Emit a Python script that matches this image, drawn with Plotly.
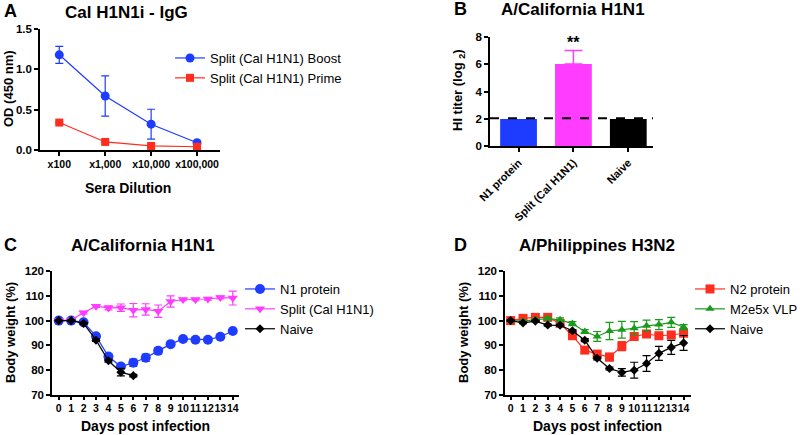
import plotly.graph_objects as go

# ---------------- data ----------------
dilutions = ["x100", "x1,000", "x10,000", "x100,000"]
boost_od = [1.18, 0.67, 0.32, 0.09]
boost_err = [0.105, 0.25, 0.185, 0.02]
prime_od = [0.34, 0.10, 0.05, 0.04]
prime_err = [0.01, 0.01, 0.01, 0.01]

hi_groups = ["N1 protein", "Split (Cal H1N1)", "Naive"]
hi_titer = [2, 6, 2]
hi_err_up = [0, 1, 0]
hi_limit = 2.05

days = list(range(15))
c_n1 = [100, 100, 99.3, 93.7, 85.5, 81.5, 83.0, 85.0, 87.8, 90.5, 92.6, 92.3, 92.3, 93.5, 95.8]
c_n1_err = [0.3, 0.3, 0.5, 0.8, 1.0, 1.0, 1.5, 1.5, 1.2, 0.6, 0.6, 0.5, 0.5, 0.6, 0.6]
c_split = [100, 100.3, 103.2, 105.8, 105.1, 105.2, 104.2, 104.5, 103.8, 107.7, 108.5, 108.5, 108.7, 109.3, 109.1]
c_split_err = [0.3, 0.3, 0.5, 0.5, 0.8, 1.5, 2.7, 2.3, 2.5, 2.3, 0.5, 0.5, 0.5, 0.6, 2.8]
c_naive_days = [0, 1, 2, 3, 4, 5, 6]
c_naive = [100, 100, 98.9, 92.1, 83.8, 79.2, 77.8]
c_naive_err = [0.2, 0.2, 0.4, 0.5, 0.6, 1.5, 0.5]

d_n2 = [100, 100.9, 101.3, 101.3, 98.9, 93.9, 88.1, 86.5, 85.3, 89.7, 93.6, 94.6, 93.9, 94.2, 94.9]
d_n2_err = [0.4, 0.6, 0.6, 0.6, 0.8, 0.8, 0.8, 1.0, 1.5, 1.8, 1.0, 1.0, 0.8, 0.8, 0.8]
d_m2 = [100, 99.8, 100.4, 100.8, 100.3, 98.8, 95.6, 93.6, 95.8, 96.3, 96.9, 97.9, 98.4, 99.3, 97.4]
d_m2_err = [0.4, 0.5, 0.6, 0.6, 0.8, 0.8, 0.8, 2.0, 3.5, 3.4, 2.7, 2.3, 2.0, 2.0, 1.0]
d_naive = [100, 99.1, 99.8, 98.2, 98.1, 95.9, 92.1, 84.8, 80.7, 79.1, 80.0, 82.7, 86.8, 89.2, 91.0]
d_naive_err = [0.3, 0.3, 0.3, 0.4, 0.4, 0.5, 0.6, 0.6, 0.6, 1.5, 3.2, 3.2, 2.8, 2.8, 3.0]

# ---------------- style ----------------
FONT = "Liberation Sans"
BLUE = "#1e3cff"
RED = "#ff2d1e"
MAG = "#ff3cff"
GREEN = "#1a9a1a"
BLACK = "#000000"
W, H = 800, 435


def X(px):
    return px / W


def Y(py):
    return 1 - py / H


def axis_style(xtick=False, **kw):
    d = dict(showline=True, linecolor="black", linewidth=1.5, ticks="outside",
             ticklen=4, tickwidth=1.5, tickcolor="black", showgrid=False,
             zeroline=False, mirror=False, automargin=False,
             tickfont=dict(family=FONT, size=10.5 if xtick else 11.5, color="black", weight="bold"))
    d.update(kw)
    return d


def eb(arr, color):
    return dict(type="data", array=arr, visible=True, color=color, thickness=1.2, width=4)


fig = go.Figure()

# Panel A
fig.add_trace(go.Scatter(x=list(range(4)), y=boost_od, mode="lines+markers",
                         name="Split (Cal H1N1) Boost", line=dict(color=BLUE, width=1.2),
                         marker=dict(symbol="circle", size=9, color=BLUE),
                         error_y=eb(boost_err, BLUE), xaxis="x", yaxis="y", legend="legend",
                         cliponaxis=False))
fig.add_trace(go.Scatter(x=list(range(4)), y=prime_od, mode="lines+markers",
                         name="Split (Cal H1N1) Prime", line=dict(color=RED, width=1.2),
                         marker=dict(symbol="square", size=8, color=RED),
                         error_y=eb(prime_err, RED), xaxis="x", yaxis="y", legend="legend",
                         cliponaxis=False))

# Panel B
fig.add_trace(go.Bar(x=hi_groups, y=hi_titer, marker=dict(color=[BLUE, MAG, BLACK], line=dict(width=0)),
                     width=0.67, showlegend=False, xaxis="x2", yaxis="y2"))
fig.add_trace(go.Scatter(x=[hi_groups[1]], y=[hi_titer[1]], mode="markers",
                         marker=dict(size=1, opacity=0), showlegend=False,
                         error_y=dict(type="data", array=[hi_err_up[1]], arrayminus=[0],
                                      color=MAG, thickness=1.5, width=9),
                         xaxis="x2", yaxis="y2", hoverinfo="skip"))

# Panel C
fig.add_trace(go.Scatter(x=days, y=c_n1, mode="lines+markers", name="N1 protein",
                         line=dict(color=BLUE, width=1.2), marker=dict(symbol="circle", size=10, color=BLUE),
                         error_y=eb(c_n1_err, BLUE), xaxis="x3", yaxis="y3", legend="legend2",
                         cliponaxis=False))
fig.add_trace(go.Scatter(x=days, y=c_split, mode="lines+markers", name="Split (Cal H1N1)",
                         line=dict(color=MAG, width=1.2), marker=dict(symbol="triangle-down", size=9, color=MAG),
                         error_y=eb(c_split_err, MAG), xaxis="x3", yaxis="y3", legend="legend2",
                         cliponaxis=False))
fig.add_trace(go.Scatter(x=c_naive_days, y=c_naive, mode="lines+markers", name="Naive",
                         line=dict(color=BLACK, width=1.2), marker=dict(symbol="diamond", size=7, color=BLACK),
                         error_y=eb(c_naive_err, BLACK), xaxis="x3", yaxis="y3", legend="legend2",
                         cliponaxis=False))

# Panel D
fig.add_trace(go.Scatter(x=days, y=d_n2, mode="lines+markers", name="N2 protein",
                         line=dict(color=RED, width=1.2), marker=dict(symbol="square", size=9, color=RED),
                         error_y=eb(d_n2_err, RED), xaxis="x4", yaxis="y4", legend="legend3",
                         cliponaxis=False))
fig.add_trace(go.Scatter(x=days, y=d_m2, mode="lines+markers", name="M2e5x VLP",
                         line=dict(color=GREEN, width=1.2), marker=dict(symbol="triangle-up", size=8, color=GREEN),
                         error_y=eb(d_m2_err, GREEN), xaxis="x4", yaxis="y4", legend="legend3",
                         cliponaxis=False))
fig.add_trace(go.Scatter(x=days, y=d_naive, mode="lines+markers", name="Naive",
                         line=dict(color=BLACK, width=1.2), marker=dict(symbol="diamond", size=7, color=BLACK),
                         error_y=eb(d_naive_err, BLACK), xaxis="x4", yaxis="y4", legend="legend3",
                         cliponaxis=False))

legend_font = dict(family=FONT, size=13, color="black")

fig.update_layout(
    template="none",
    width=W, height=H, margin=dict(l=0, r=0, t=0, b=0, autoexpand=False),
    paper_bgcolor="white", plot_bgcolor="white",
    font=dict(family=FONT, color="black"),
    xaxis=axis_style(xtick=True, domain=[X(40), X(220)], anchor="y", range=[-0.42, 3.5],
                     tickvals=list(range(4)), ticktext=dilutions, tickangle=0),
    yaxis=axis_style(domain=[Y(150), Y(29)], anchor="x", range=[0, 1.5],
                     tickvals=[0, 0.5, 1.0, 1.5], tickformat=".1f"),
    xaxis2=axis_style(domain=[X(490), X(653)], anchor="y2", range=[-0.52, 2.45],
                      tickangle=-45, type="category",
                      tickfont=dict(family=FONT, size=11, color="black", weight="bold")),
    yaxis2=axis_style(domain=[Y(146.3), Y(36.7)], anchor="x2", range=[0, 8],
                      tickvals=[0, 2, 4, 6, 8]),
    xaxis3=axis_style(xtick=True, domain=[X(52), X(239)], anchor="y3", range=[-0.54, 14.5],
                      tickvals=days, ticklen=3, tickangle=0),
    yaxis3=axis_style(domain=[Y(395), Y(271)], anchor="x3", range=[70, 120],
                      tickvals=[70, 80, 90, 100, 110, 120]),
    xaxis4=axis_style(xtick=True, domain=[X(505), X(691)], anchor="y4", range=[-0.46, 14.6],
                      tickvals=days, ticklen=3, tickangle=0),
    yaxis4=axis_style(domain=[Y(395), Y(271)], anchor="x4", range=[70, 120],
                      tickvals=[70, 80, 90, 100, 110, 120]),
    legend=dict(x=X(170), y=Y(43), xanchor="left", yanchor="top", font=legend_font,
                bgcolor="rgba(0,0,0,0)", tracegroupgap=0),
    legend2=dict(x=X(240), y=Y(274), xanchor="left", yanchor="top", font=legend_font,
                 bgcolor="rgba(0,0,0,0)"),
    legend3=dict(x=X(690), y=Y(274), xanchor="left", yanchor="top", font=legend_font,
                 bgcolor="rgba(0,0,0,0)"),
    showlegend=True,
)

# dashed detection-limit line in B
fig.add_shape(type="line", xref="x2 domain", yref="y2", x0=0, x1=1, y0=hi_limit, y1=hi_limit,
              line=dict(color="black", width=2, dash="dash"))

ann = []


def txt(text, px, py, size, bold=True, angle=0, xanchor="center"):
    ann.append(dict(text=text, x=X(px), y=Y(py), xref="paper", yref="paper",
                    showarrow=False, textangle=angle, xanchor=xanchor, yanchor="middle",
                    font=dict(family=FONT, size=size, color="black", weight="bold" if bold else "normal")))


# panel letters
txt("A", 2, 11, 18, xanchor="left")
txt("B", 452, 9, 18, xanchor="left")
txt("C", 2, 245, 18, xanchor="left")
txt("D", 452, 245, 18, xanchor="left")
# titles
txt("Cal H1N1i - IgG", 126, 13, 17)
txt("A/California H1N1", 573, 9, 17)
txt("A/California H1N1", 143, 245, 17)
txt("A/Philippines H3N2", 597, 245, 17)
# axis titles
txt("Sera Dilution", 128, 188, 14)
txt("Days post infection", 145, 426, 14)
txt("Days post infection", 597, 426, 14)
txt("OD (450 nm)", 8, 89, 13, angle=-90)
txt("Body weight (%)", 10, 333, 13, angle=-90)
txt("Body weight (%)", 463, 333, 13, angle=-90)
txt("HI titer (log <sub>2</sub>)", 459, 90, 13, angle=-90)

ann.append(dict(text="**", x=hi_groups[1], y=7.55, xref="x2", yref="y2", showarrow=False,
                font=dict(family=FONT, size=16, color="black", weight="bold")))

fig.update_layout(annotations=ann)

fig.write_html("out.html", config={"displayModeBar": False},
               post_script="document.body.style.margin='0';document.body.style.overflow='hidden';")
